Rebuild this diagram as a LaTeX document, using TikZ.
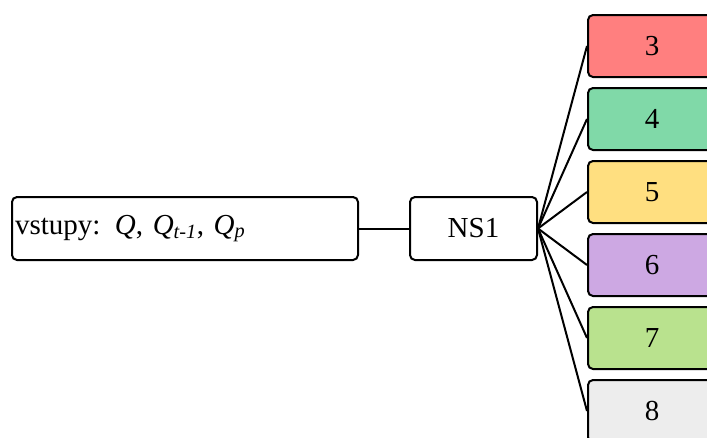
\documentclass[tikz,border=0pt]{standalone}
\usepackage{fontspec}
\setmainfont{Liberation Serif}
\definecolor{boxred}{HTML}{FF7F7F}
\definecolor{boxgreen}{HTML}{80D9A8}
\definecolor{boxyellow}{HTML}{FFDF80}
\definecolor{boxpurple}{HTML}{CDA8E3}
\definecolor{boxlime}{HTML}{B9E28E}
\definecolor{boxgrey}{HTML}{EDEDED}
\begin{document}
\begin{tikzpicture}[x=1pt,y=-1pt,
  box/.style={draw=black,line width=2pt,rounded corners=5pt,inner sep=0pt,
    font=\fontsize{29}{34}\selectfont},
  outbox/.style={box,minimum width=128pt,minimum height=62pt},
  link/.style={draw=black,line width=2pt}]
\useasboundingbox (0,0) rectangle (707,437);
% input and network
\node[box,minimum width=346pt,minimum height=63pt,anchor=north west,
  align=left,text width=340pt] (inp) at (11,196)
  {vstupy: \textit{Q}, \textit{Q}\textsubscript{\textit{t-1}}, \textit{Q}\textsubscript{\textit{p}}};
\node[box,minimum width=127pt,minimum height=63pt,anchor=north west] (ns) at (409,196) {NS1};
% outputs
\node[outbox,fill=boxred,anchor=north west]    (o3) at (587,14)  {3};
\node[outbox,fill=boxgreen,anchor=north west]  (o4) at (587,87)  {4};
\node[outbox,fill=boxyellow,anchor=north west] (o5) at (587,160) {5};
\node[outbox,fill=boxpurple,anchor=north west] (o6) at (587,233) {6};
\node[outbox,fill=boxlime,anchor=north west]   (o7) at (587,306) {7};
\node[outbox,fill=boxgrey,anchor=north west]   (o8) at (587,379) {8};
% connectors
\draw[link] (inp.east) -- (ns.west);
\foreach \o in {o3,o4,o5,o6,o7,o8}
  \draw[link] (ns.east) -- (\o.west);
\end{tikzpicture}
\end{document}
